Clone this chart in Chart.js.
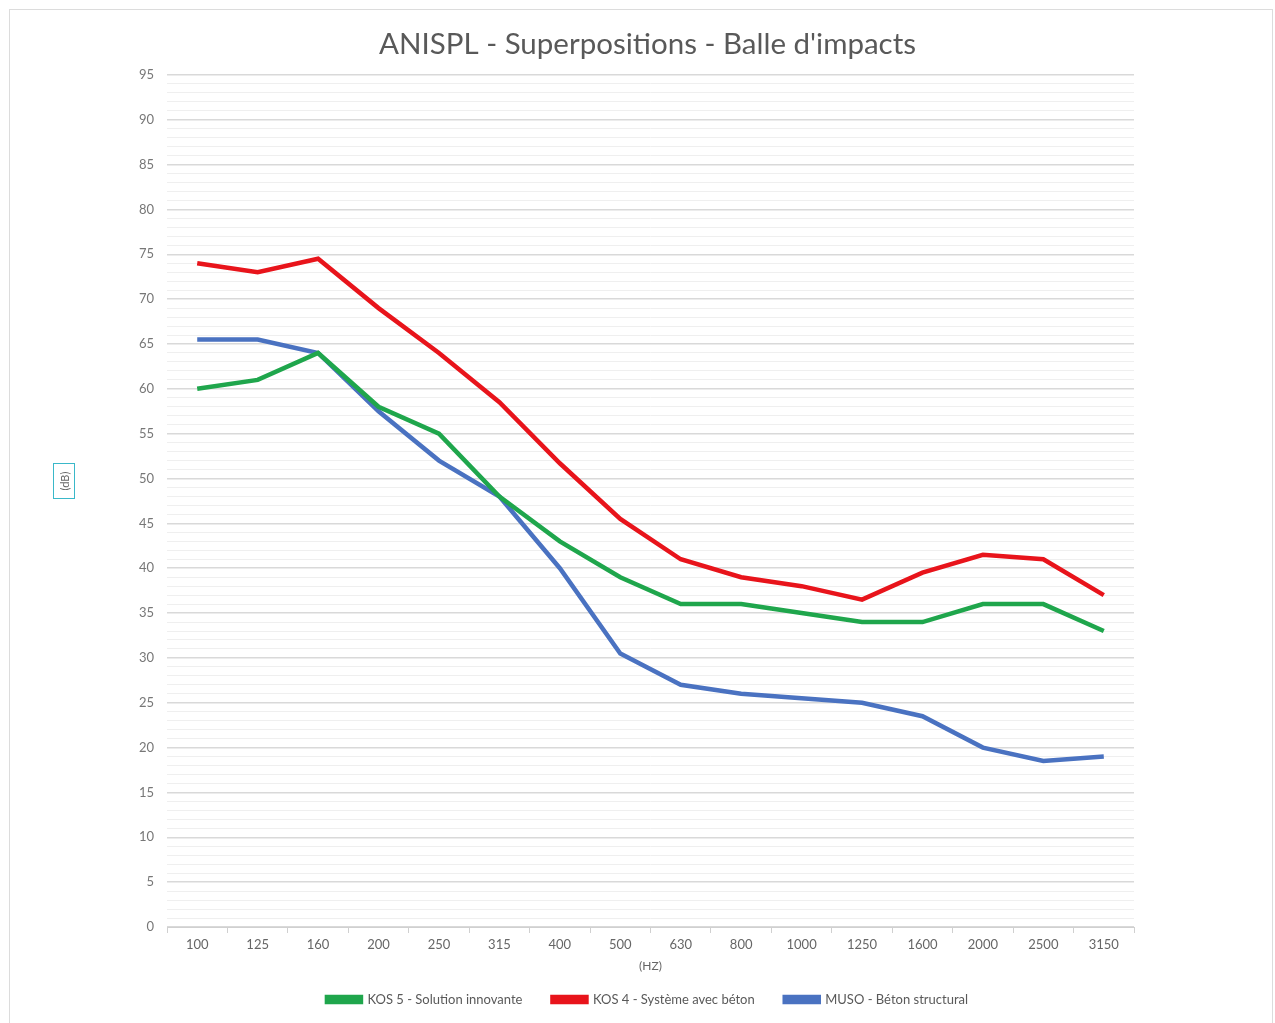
<!DOCTYPE html>
<html>
<head>
<meta charset="utf-8">
<script src="https://cdn.jsdelivr.net/npm/chart.js@4"></script>
<style>
  body { margin: 0; background: #fff; }
  #cadre { position: absolute; left: 9px; top: 9px; width: 1262px; height: 1020px; border: 1px solid #dcdcdc; }
  #zone { position: absolute; left: 0; top: 0; width: 1275px; height: 1023px; }
  #unite {
    position: absolute; left: 53px; top: 463px; width: 20px; height: 34px;
    border: 1.5px solid #3ab8c9; font: 11px Lato, sans-serif; color: #666;
  }
  #unite span {
    position: absolute; left: 50%; top: 50%;
    transform: translate(-50%, -50%) rotate(-90deg); white-space: nowrap;
  }
</style>
</head>
<body>
<div id="cadre"></div>
<div id="zone"><canvas id="courbes"></canvas></div>
<div id="unite"><span>(dB)</span></div>
<script>
const frequences = ["100", "125", "160", "200", "250", "315", "400", "500", "630", "800", "1000", "1250", "1600", "2000", "2500", "3150"];
const noms = ["KOS 5 - Solution innovante", "KOS 4 - Système avec béton", "MUSO - Béton structural"];

const valeurs_kos5 = [60, 61, 64, 58, 55, 48, 43, 39, 36, 36, 35, 34, 34, 36, 36, 33];
const valeurs_kos4 = [74, 73, 74.5, 69, 64, 58.5, 51.7, 45.5, 41, 39, 38, 36.5, 39.5, 41.5, 41, 37];
const valeurs_muso = [65.5, 65.5, 64, 57.5, 52, 48, 40, 30.5, 27, 26, 25.5, 25, 23.5, 20, 18.5, 19];

const couleurVert = "#1fa64c";
const couleurRouge = "#e8141b";
const couleurBleu = "#4a72c1";

function serie(nom, valeurs, couleur) {
  return {
    label: nom,
    data: valeurs,
    borderColor: couleur,
    backgroundColor: couleur,
    borderWidth: 4.5,
    tension: 0,
    pointRadius: 0,
    pointHoverRadius: 0,
  };
}

const ctx = document.getElementById("courbes");
const grafico = new Chart(ctx, {
  type: "line",
  data: {
    labels: frequences,
    datasets: [
      serie(noms[0], valeurs_kos5, couleurVert),
      serie(noms[1], valeurs_kos4, couleurRouge),
      serie(noms[2], valeurs_muso, couleurBleu),
    ],
  },
  options: {
    responsive: true,
    maintainAspectRatio: false,
    animation: false,
    layout: { padding: { left: 127, right: 107, top: 10, bottom: 7 } },
    plugins: {
      title: {
        display: true,
        text: "ANISPL - Superpositions - Balle d'impacts",
        color: "#595959",
        font: { family: "Lato", size: 29.5, weight: "normal" },
        padding: { top: 17, bottom: 12.5 },
      },
      legend: {
        position: "bottom",
        labels: {
          boxWidth: 34,
          boxHeight: 5,
          padding: 30,
          color: "#595959",
          font: { family: "Lato", size: 13 },
        },
      },
      tooltip: { enabled: false },
    },
    scales: {
      x: {
        offset: true,
        afterFit: function (scale) { scale.height = 36; },
        grid: { offset: true, drawOnChartArea: false, drawTicks: true, tickLength: 6, color: "#d0d0d0" },
        border: { color: "#d0d0d0" },
        ticks: { color: "#666", padding: 4, font: { family: "Lato", size: 13 }, maxRotation: 0 },
        title: {
          display: true,
          text: "(HZ)",
          color: "#666",
          font: { family: "Lato", size: 12 },
          padding: { top: 0, bottom: -10 },
        },
      },
      y: {
        min: 0,
        max: 95,
        afterFit: function (scale) { scale.width = 40; },
        border: { display: false },
        grid: {
          drawTicks: false,
          color: function (c) { return c.tick && c.tick.value % 5 === 0 ? "#d9d9d9" : "#efefef"; },
          lineWidth: function (c) { return c.tick && c.tick.value % 5 === 0 ? 1.5 : 1; },
        },
        ticks: {
          stepSize: 1,
          autoSkip: false,
          padding: 13,
          color: "#777",
          font: { family: "Lato", size: 13 },
          callback: function (v) { return v % 5 === 0 ? v : ""; },
        },
      },
      // axe vide à droite : sert seulement à décaler le titre comme dans l'original
      marge: {
        position: "right",
        min: 0,
        max: 95,
        afterFit: function (scale) { scale.width = 34; },
        border: { display: false },
        grid: { display: false },
        ticks: { display: false },
      },
    },
  },
});
</script>
</body>
</html>
